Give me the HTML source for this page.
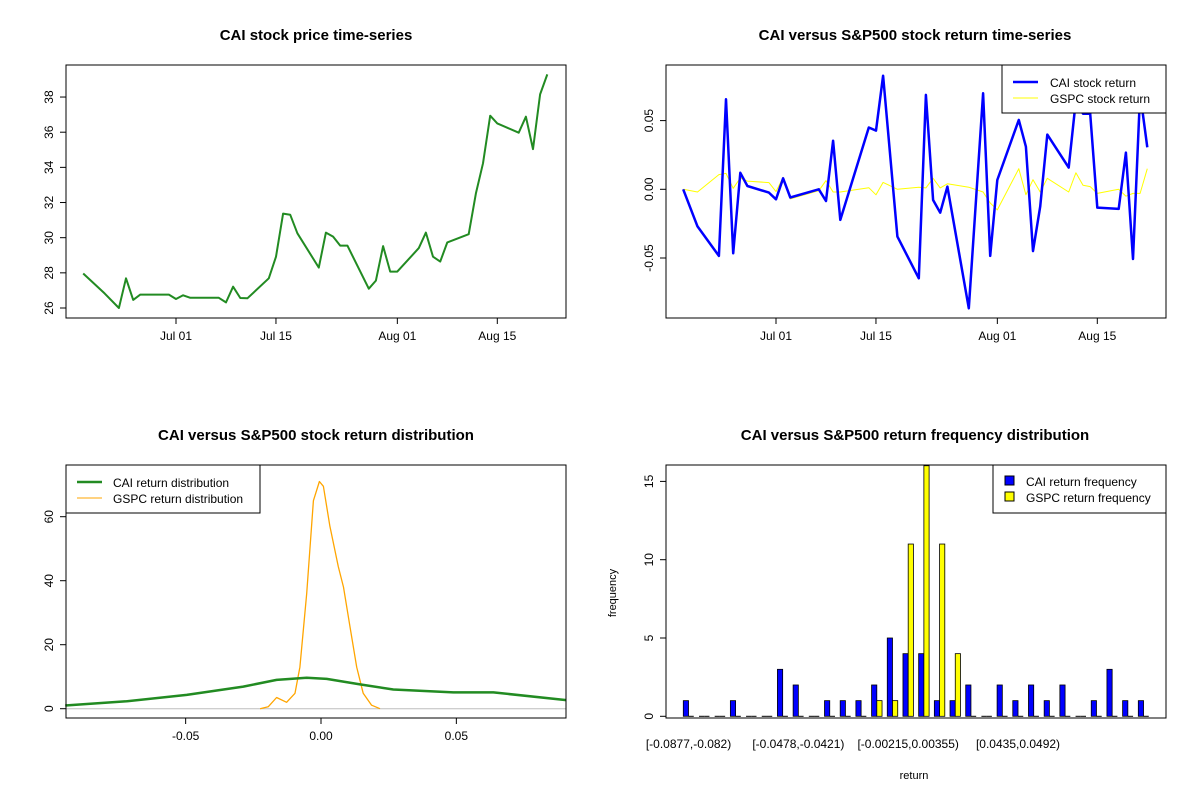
<!DOCTYPE html>
<html><head><meta charset="utf-8"><style>
body{margin:0;background:#fff}
svg{font-family:"Liberation Sans",Arial,sans-serif;display:block}
</style></head><body>
<svg id="s" width="1200" height="800" xmlns="http://www.w3.org/2000/svg"></svg>
<script>
// ---- data ----
const priceDays=[-13,-10,-8,-7,-6,-5,-1,0,1,2,6,7,8,9,10,13,14,15,16,17,20,21,22,23,24,27,28,29,30,31,34,35,36,37,38,41,42,43,44,45,48,49,50,51,52];
const priceVals=[27.96,26.83,26.0,27.69,26.46,26.76,26.76,26.51,26.72,26.58,26.58,26.32,27.21,26.57,26.55,27.69,28.92,31.37,31.31,30.25,28.3,30.29,30.06,29.55,29.55,27.1,27.56,29.52,28.07,28.07,29.41,30.29,28.92,28.64,29.73,30.2,32.52,34.23,36.94,36.5,35.97,36.88,35.04,38.15,39.29];
const retDays=[-13,-11,-8,-7,-6,-5,-4,-1,0,1,2,6,7,8,9,13,14,15,17,20,21,22,23,24,27,29,30,31,34,35,36,37,38,41,42,43,44,45,48,49,50,51,52];
const caiRet=[0,-0.027,-0.0485,0.0655,-0.0466,0.012,0.0024,-0.0024,-0.0073,0.008,-0.006,0,-0.0085,0.0354,-0.0223,0.045,0.0427,0.0827,-0.0344,-0.0648,0.0687,-0.0078,-0.017,0.002,-0.0866,0.0699,-0.0485,0.0068,0.0505,0.031,-0.045,-0.0126,0.0398,0.0158,0.065,0.055,0.055,-0.0133,-0.0143,0.0267,-0.0507,0.0699,0.0306];
const gspcRet=[0,-0.002,0.0107,0.0116,0.0007,0.0082,0.006,0.0049,-0.0017,0.0087,-0.007,-0.001,0.0063,-0.002,-0.002,0.0012,-0.004,0.005,0,0.0015,0.001,0.008,0.001,0.004,0.0015,-0.002,-0.01,-0.015,0.015,-0.004,0.007,-0.002,0.008,-0.002,0.012,0.003,0.002,-0.003,0,-0.005,-0.003,-0.003,0.015];
const caiDensX=[-0.0945,-0.0718,-0.0496,-0.0287,-0.0164,-0.0053,0.0021,0.0144,0.0267,0.0489,0.0637,0.0906];
const caiDensY=[1,2.3,4.3,6.9,9.0,9.7,9.3,7.6,6.0,5.1,5.1,2.7];
const gspcDensX=[-0.0225,-0.0195,-0.0164,-0.0127,-0.0096,-0.0078,-0.0053,-0.0028,-0.0006,0.0009,0.0033,0.0064,0.0083,0.0107,0.0132,0.0156,0.0187,0.0218];
const gspcDensY=[0,0.6,3.5,2,4.8,13,36,65,71,69.5,57,44.4,38,25.6,13,4.8,1.1,0];
const caiFreq=[1,0,0,1,0,0,3,2,0,1,1,1,2,5,4,4,1,1,2,0,2,1,2,1,2,0,1,3,1,1];
const gspcFreq=[0,0,0,0,0,0,0,0,0,0,0,0,1,1,11,16,11,4,0,0,0,0,0,0,0,0,0,0,0,0];
const binLabels={0:"[-0.0877,-0.082)",7:"[-0.0478,-0.0421)",14:"[-0.00215,0.00355)",21:"[0.0435,0.0492)"};
const dateTicks=[0,14,31,45];
const dateLabels=["Jul 01","Jul 15","Aug 01","Aug 15"];
const priceTicks=[26,28,30,32,34,36,38];
const retTicks=[-0.05,0,0.05];
const densXTicks=[-0.05,0,0.05];
const densYTicks=[0,20,40,60];
const freqTicks=[0,5,10,15];

const S=document.getElementById('s');const NS='http://www.w3.org/2000/svg';
function el(t,a,txt){const e=document.createElementNS(NS,t);for(const k in a)e.setAttribute(k,a[k]);if(txt!==undefined)e.textContent=txt;S.appendChild(e);return e;}
function box(x0,y0,x1,y1,name){const e=el('rect',{x:x0,y:y0,width:x1-x0,height:y1-y0,fill:'none',stroke:'#000','stroke-width':1});

}
function title(x,y,t,name){const e=el('text',{x:x,y:y,'text-anchor':'middle','font-size':15,'font-weight':'bold'},t);

}
function xtick(x,y,lab,name){el('line',{x1:x,y1:y,x2:x,y2:y+6,stroke:'#000'});const e=el('text',{x:x,y:y+22,'text-anchor':'middle','font-size':12},lab);

}
function ytick(x,y,lab,name){el('line',{x1:x,y1:y,x2:x-6,y2:y,stroke:'#000'});const e=el('text',{x:x-13,y:y,'text-anchor':'middle','font-size':12,transform:`rotate(-90 ${x-13} ${y})`},lab);

}
function poly(xs,ys,fx,fy,col,w,name){const p=xs.map((v,i)=>fx(v).toFixed(1)+','+fy(ys[i]).toFixed(1)).join(' ');const e=el('polyline',{points:p,fill:'none',stroke:col,'stroke-width':w,'stroke-linejoin':'round'});

}

// ---- panel 1 ----
const dx1=d=>176+d*7.14, py=v=>308-(v-26)*17.58;
title(316,40,"CAI stock price time-series","price-chart-title");
poly(priceDays,priceVals,dx1,py,'#228B22',2,'price-line');
box(66,65,566,318,'price-plot-area');
dateTicks.forEach((d,i)=>xtick(dx1(d),318,dateLabels[i],'price-x-tick'));
priceTicks.forEach(v=>ytick(66,py(v),String(v),'price-y-tick'));

// ---- panel 2 ----
const dx2=d=>776+d*7.14, ry=v=>189.3-v*1374;
title(915,40,"CAI versus S&P500 stock return time-series","return-chart-title");
poly(retDays,gspcRet,dx2,ry,'#FFFF00',1,'gspc-return-line');
poly(retDays,caiRet,dx2,ry,'#0000FF',2.5,'cai-return-line');
box(666,65,1166,318,'return-plot-area');
dateTicks.forEach((d,i)=>xtick(dx2(d),318,dateLabels[i],'return-x-tick'));
retTicks.forEach(v=>ytick(666,ry(v),v.toFixed(2),'return-y-tick'));
el('rect',{x:1002,y:65,width:164,height:48,fill:'#fff',stroke:'#000'});
el('line',{x1:1013,y1:82,x2:1038,y2:82,stroke:'#0000FF','stroke-width':2.5});
el('text',{x:1050,y:87,'font-size':12},"CAI stock return");
el('line',{x1:1013,y1:98,x2:1038,y2:98,stroke:'#FFFF00','stroke-width':1});
el('text',{x:1050,y:103,'font-size':12},"GSPC stock return");

// ---- panel 3 ----
const dx3=v=>321+v*2707, dy3=v=>708.7-v*3.2;
title(316,440,"CAI versus S&P500 stock return distribution","density-chart-title");
el('line',{x1:66,y1:dy3(0),x2:566,y2:dy3(0),stroke:'#bebebe'});
poly(gspcDensX,gspcDensY,dx3,dy3,'#FFA500',1.3,'gspc-density-curve');
poly(caiDensX,caiDensY,dx3,dy3,'#228B22',2.5,'cai-density-curve');
box(66,465,566,718,'density-plot-area');
densXTicks.forEach(v=>xtick(dx3(v),718,v.toFixed(2),'density-x-tick'));
densYTicks.forEach(v=>ytick(66,dy3(v),String(v),'density-y-tick'));
el('rect',{x:66,y:465,width:194,height:48,fill:'#fff',stroke:'#000'});
el('line',{x1:77,y1:482,x2:102,y2:482,stroke:'#228B22','stroke-width':2.5});
el('text',{x:113,y:487,'font-size':12},"CAI return distribution");
el('line',{x1:77,y1:498,x2:102,y2:498,stroke:'#FFA500','stroke-width':1});
el('text',{x:113,y:503,'font-size':12},"GSPC return distribution");

// ---- panel 4 ----
const fy=v=>716.3-v*15.66, gx=g=>683.3+g*15.69, bw=5.23;
title(915,440,"CAI versus S&P500 return frequency distribution","frequency-chart-title");
function bar(x,v,col,name){
  if(v<=0){const l=el('line',{x1:x,y1:fy(0),x2:x+bw,y2:fy(0),stroke:'#000','stroke-width':1});
    
    return;}
  const top=Math.max(465,fy(v));
  const r=el('rect',{x:x,y:top,width:bw,height:fy(0)-top,fill:col,stroke:'#000','stroke-width':0.8});
  
  }
caiFreq.forEach((v,g)=>bar(gx(g),v,'#0000FF','cai-freq-bar'));
gspcFreq.forEach((v,g)=>bar(gx(g)+bw,v,'#FFFF00','gspc-freq-bar'));
box(666,465,1166,718,'frequency-plot-area');
Object.keys(binLabels).forEach(g=>{const t=el('text',{x:gx(+g)+bw,y:748,'text-anchor':'middle','font-size':12},binLabels[g]);

});
freqTicks.forEach(v=>ytick(666,fy(v),String(v),'frequency-y-tick'));
el('text',{x:914,y:779,'text-anchor':'middle','font-size':11},"return");
el('text',{x:616,y:593,'text-anchor':'middle','font-size':11,transform:'rotate(-90 616 593)'},"frequency");
el('rect',{x:993,y:465,width:173,height:48,fill:'#fff',stroke:'#000'});
el('rect',{x:1005,y:476,width:9,height:9,fill:'#0000FF',stroke:'#000'});
el('text',{x:1026,y:486,'font-size':12},"CAI return frequency");
el('rect',{x:1005,y:492,width:9,height:9,fill:'#FFFF00',stroke:'#000'});
el('text',{x:1026,y:502,'font-size':12},"GSPC return frequency");
</script>
</body></html>
